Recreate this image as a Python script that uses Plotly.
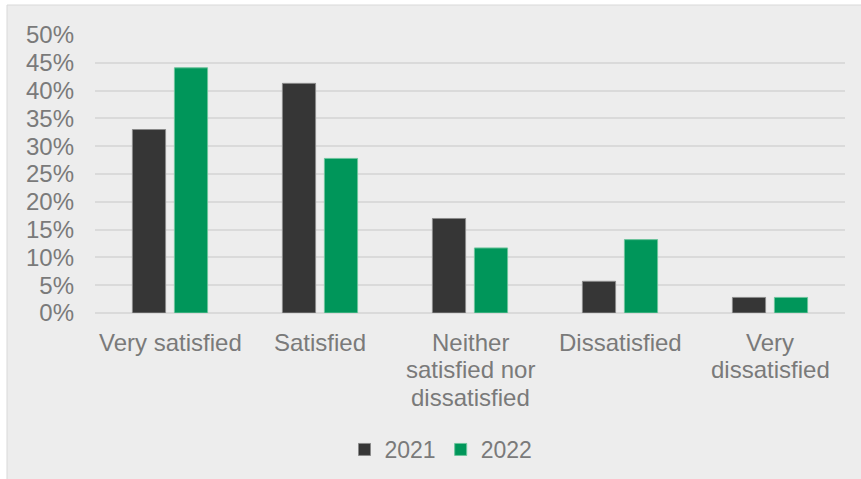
import plotly.graph_objects as go

categories = ["Very satisfied", "Satisfied", "Neither satisfied nor dissatisfied",
              "Dissatisfied", "Very dissatisfied"]
category_lines = [["Very satisfied"], ["Satisfied"],
                  ["Neither", "satisfied nor", "dissatisfied"],
                  ["Dissatisfied"], ["Very", "dissatisfied"]]
values_2021 = [0.33, 0.413, 0.17, 0.057, 0.028]
values_2022 = [0.441, 0.278, 0.117, 0.132, 0.028]
y_ticks = [0, 0.05, 0.10, 0.15, 0.20, 0.25, 0.30, 0.35, 0.40, 0.45, 0.50]

DARK = "#363636"
GREEN = "#00965A"
TEXT = "#7a7a7a"
FONT = "Liberation Sans, Arial, sans-serif"

FIG_W, FIG_H = 861, 479
# plot area geometry in pixels (used to convert to paper coordinates)
L, R, T, B = 95, 845, 35, 313
W, H = R - L, B - T


def px_x(p):
    return (p - L) / W


def px_y(p):
    return (B - p) / H


fig = go.Figure()
fig.add_trace(go.Bar(name="2021", x=categories, y=values_2021,
                     marker=dict(color=DARK, line=dict(color="#8a8a8a", width=1))))
fig.add_trace(go.Bar(name="2022", x=categories, y=values_2022,
                     marker=dict(color=GREEN, line=dict(color="#6cc49c", width=1))))

# chart frame (right and bottom edges run off the page)
fig.add_shape(type="rect", xref="paper", yref="paper",
              x0=px_x(7), x1=px_x(864), y0=px_y(482), y1=px_y(5),
              fillcolor="#EDEDED", line=dict(color="#d9d9d9", width=1), layer="below")

# category labels, one annotation per line for tighter line spacing
annotations = []
for cat, lines in zip(categories, category_lines):
    for i, line in enumerate(lines):
        annotations.append(dict(x=cat, xref="x", y=px_y(342 + 27.5 * i), yref="paper",
                                text=line, showarrow=False, xanchor="center",
                                yanchor="middle", font=dict(size=24, color=TEXT, family=FONT)))

fig.update_layout(
    width=FIG_W, height=FIG_H,
    margin=dict(l=L, r=FIG_W - R, t=T, b=FIG_H - B),
    paper_bgcolor="white",
    plot_bgcolor="rgba(0,0,0,0)",
    barmode="group",
    bargap=0.44,
    bargroupgap=0.21,
    font=dict(family=FONT, size=24, color=TEXT),
    showlegend=True,
    annotations=annotations,
    legend=dict(orientation="h", xref="container", yref="container",
                x=441 / FIG_W, xanchor="center", y=1 - 428 / FIG_H, yanchor="top",
                font=dict(size=23, color=TEXT), itemwidth=30, traceorder="normal",
                bgcolor="rgba(0,0,0,0)"),
    xaxis=dict(showgrid=False, showline=False, ticks="", showticklabels=False,
               automargin=False),
    yaxis=dict(range=[0, 0.5], tickvals=y_ticks, tickformat=".0%",
               gridcolor="#dadada", gridwidth=1.5, zeroline=True, zerolinecolor="#dadada",
               zerolinewidth=1.5, showline=False, ticks="", automargin=False,
               tickfont=dict(size=24, color=TEXT), ticklabelstandoff=20),
)

fig.write_html("out.html")
